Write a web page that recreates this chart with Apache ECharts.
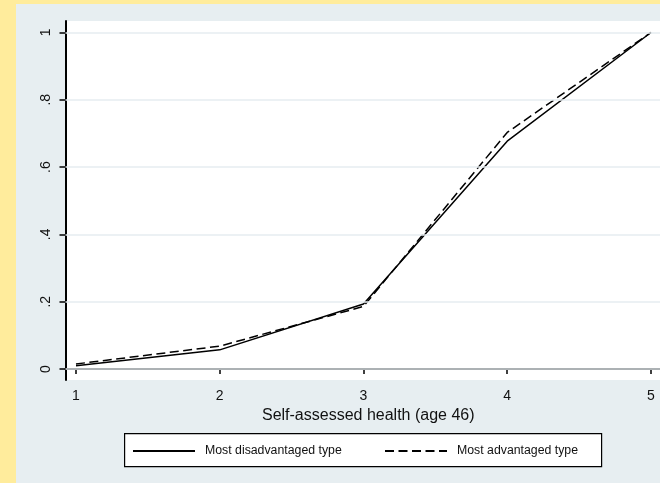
<!DOCTYPE html>
<html>
<head>
<meta charset="utf-8">
<script src="https://cdn.jsdelivr.net/npm/echarts@6/dist/echarts.min.js"></script>
<style>
html,body{margin:0;padding:0;}
#outer{position:relative;width:660px;height:483px;background:#ffec9c;overflow:hidden;}
#chart{position:absolute;left:16px;top:4px;width:644px;height:479px;background:#e7eef1;}
</style>
</head>
<body>
<div id="outer"><div id="chart"></div></div>
<script>
// Data
const categories = [1, 2, 3, 4, 5];
const disadvantaged = [0.010, 0.057, 0.193, 0.677, 1.0];
const advantaged = [0.015, 0.068, 0.186, 0.703, 1.0];
const xTickValues = [1, 2, 3, 4, 5];
const yTickValues = [0, 0.2, 0.4, 0.6, 0.8, 1];
const yTickLabels = ['0', '.2', '.4', '.6', '.8', '1'];
const seriesNames = ['Most disadvantaged type', 'Most advantaged type'];
const xTitle = 'Self-assessed health (age 46)';

const FONT = '"Liberation Sans", Arial, Helvetica, sans-serif';
const chart = echarts.init(document.getElementById('chart'), null, {renderer: 'canvas'});

const pairs = arr => categories.map((c, i) => [c, arr[i]]);

const legendCommon = {
  top: 441, padding: 0, itemWidth: 62, itemHeight: 10,
  itemStyle: {opacity: 0, borderWidth: 0},
  textStyle: {fontFamily: FONT, fontSize: 12.3, color: '#111', padding: [0, 0, 0, 5]}
};

const option = {
  animation: false,
  backgroundColor: '#e7eef1',
  grid: {
    left: 49.5, right: 0, top: 17, bottom: 103,
    show: true, backgroundColor: '#ffffff', borderWidth: 0
  },
  xAxis: {
    type: 'value', min: 0.927, max: 5.063,
    name: xTitle, nameLocation: 'middle', nameGap: 25,
    nameTextStyle: {fontFamily: FONT, fontSize: 16, color: '#111', padding: [0, 0, 0, 11]},
    axisLine: {show: true, lineStyle: {color: '#000', width: 2}},
    axisTick: {show: true, length: 5, lineStyle: {color: '#000', width: 1.5}, customValues: xTickValues},
    axisLabel: {fontFamily: FONT, fontSize: 14, color: '#111', margin: 9, customValues: xTickValues,
      formatter: v => String(v)},
    splitLine: {show: false}
  },
  yAxis: {
    type: 'value', min: -0.0326, max: 1.0341,
    axisLine: {show: true, lineStyle: {color: '#000', width: 2}},
    axisTick: {show: true, length: 6, lineStyle: {color: '#000', width: 1.5}, customValues: yTickValues},
    axisLabel: {fontFamily: FONT, fontSize: 14, color: '#111', margin: 12, rotate: 90,
      customValues: yTickValues,
      formatter: v => {
        const i = yTickValues.findIndex(t => Math.abs(t - v) < 1e-9);
        return i >= 0 ? yTickLabels[i] : '';
      }},
    splitLine: {show: false}
  },
  legend: [
    Object.assign({data: [seriesNames[0]], left: 116}, legendCommon),
    Object.assign({data: [seriesNames[1]], left: 368}, legendCommon)
  ],
  graphic: [
    {type: 'rect', left: 108, top: 429, z: -1,
     shape: {width: 477, height: 33},
     style: {fill: '#ffffff', stroke: '#000000', lineWidth: 1.2}}
  ],
  series: [
    {
      name: 'gridlines', type: 'line', data: [], z: 1, silent: true,
      markLine: {
        silent: true, symbol: 'none', label: {show: false},
        lineStyle: {color: '#e6edf0', width: 1.5, type: 'solid'},
        data: yTickValues.map(v => ({yAxis: v}))
      }
    },
    {
      name: seriesNames[0], type: 'line', z: 3, data: pairs(disadvantaged),
      symbol: 'none', color: '#000',
      lineStyle: {color: '#000', width: 1.5, type: 'solid'}
    },
    {
      name: seriesNames[1], type: 'line', z: 3, data: pairs(advantaged),
      symbol: 'none', color: '#000',
      lineStyle: {color: '#000', width: 1.5, type: [9, 4.5]}
    }
  ]
};
chart.setOption(option);
</script>
</body>
</html>
